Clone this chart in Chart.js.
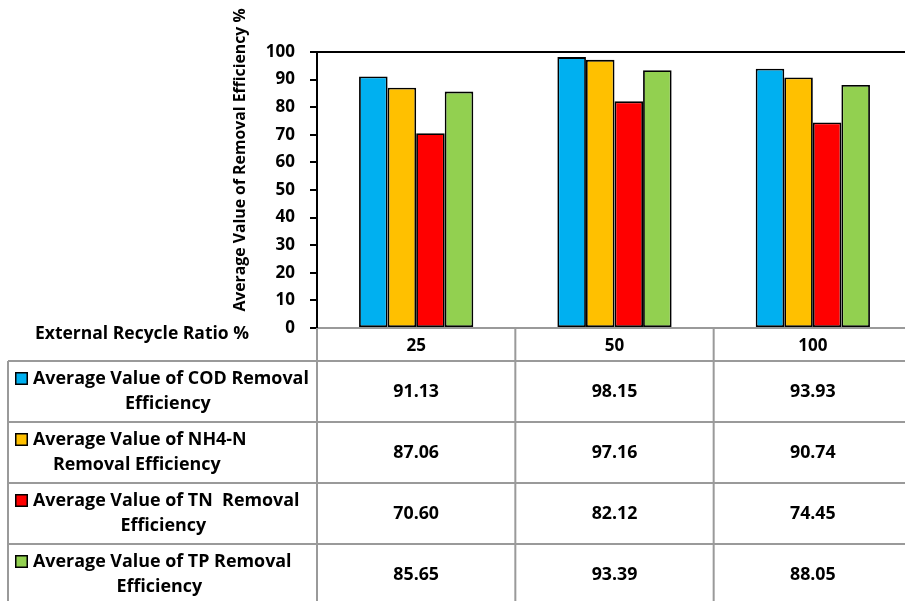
<!DOCTYPE html>
<html>
<head>
<meta charset="utf-8">
<script src="https://cdn.jsdelivr.net/npm/chart.js@4/dist/chart.umd.min.js"></script>
<style>
html,body{margin:0;padding:0;background:#fff;overflow:hidden;}
#wrap{width:915px;height:601px;}
</style>
</head>
<body>
<div id="wrap"><canvas id="c" width="915" height="601"></canvas></div>
<script>
// ---- data ----
const categories = ['25', '50', '100'];
const codValues = [91.13, 98.15, 93.93];
const nh4Values = [87.06, 97.16, 90.74];
const tnValues  = [70.60, 82.12, 74.45];
const tpValues  = [85.65, 93.39, 88.05];
const seriesLabels = [
  ['Average Value of COD Removal', 'Efficiency'],
  ['Average Value of NH4-N', 'Removal Efficiency'],
  ['Average Value of TN  Removal', 'Efficiency'],
  ['Average Value of TP Removal', 'Efficiency']
];
const seriesColors = ['#00B0F0', '#FFC000', '#FF0000', '#92D050'];
const yMin = 0, yMax = 100, yStep = 10;
const yTitle = 'Average Value of Removal Efficiency %';
const xTitle = 'External Recycle Ratio %';

const FONT = '"Open Sans", Lato, sans-serif';
const seriesValues = [codValues, nh4Values, tnValues, tpValues];

const tablePlugin = {
  id: 'dataTable',
  afterDraw(chart) {
    const ctx = chart.ctx;
    const ca = chart.chartArea;
    const xs = chart.scales.x;
    const n = categories.length;
    const catW = (ca.right - ca.left) / n;
    const tableLeft = 8;
    const headerBottom = 361;
    const rowH = 61;
    const gray = '#9a9a9a';
    ctx.save();
    // top plot border
    ctx.strokeStyle = '#000';
    ctx.lineWidth = 2;
    ctx.beginPath();
    ctx.moveTo(ca.left, ca.top);
    ctx.lineTo(ca.right, ca.top);
    ctx.stroke();

    // y title
    ctx.save();
    ctx.translate(240, 160);
    ctx.rotate(-Math.PI / 2);
    ctx.fillStyle = '#000';
    ctx.font = 'bold 15.8px ' + FONT;
    ctx.textAlign = 'center';
    ctx.textBaseline = 'middle';
    ctx.fillText(yTitle, 0, 0);
    ctx.restore();

    // x title
    ctx.fillStyle = '#000';
    ctx.font = 'bold 17.5px ' + FONT;
    ctx.textAlign = 'center';
    ctx.textBaseline = 'middle';
    ctx.fillText(xTitle, 142, 334);

    // table lines
    ctx.strokeStyle = gray;
    ctx.lineWidth = 2;
    ctx.beginPath();
    for (let i = 0; i <= n; i++) {
      const x = xs.getPixelForValue(0) - catW / 2 + i * catW;
      ctx.moveTo(x, ca.bottom);
      ctx.lineTo(x, 601);
    }
    ctx.moveTo(tableLeft, headerBottom);
    ctx.lineTo(tableLeft, 601);
    for (let r = 0; r <= seriesValues.length; r++) {
      const y = headerBottom + r * rowH;
      ctx.moveTo(tableLeft, y);
      ctx.lineTo(ca.right, y);
    }
    ctx.stroke();

    // cells
    for (let r = 0; r < seriesValues.length; r++) {
      const yc = headerBottom + r * rowH + rowH / 2;
      ctx.fillStyle = '#000';
      ctx.font = 'bold 17.8px ' + FONT;
      ctx.textAlign = 'center';
      ctx.textBaseline = 'middle';
      for (let i = 0; i < n; i++) {
        ctx.fillText(seriesValues[r][i].toFixed(2), xs.getPixelForValue(i), yc);
      }
      ctx.font = 'bold 17.9px ' + FONT;
      const lines = seriesLabels[r];
      const keyX = 15, keyS = 13;
      const w1 = ctx.measureText(lines[0]).width;
      const line1Left = keyX + keyS + 5;
      const center = (keyX + line1Left + w1) / 2 + 6;
      const y1 = yc - 13, y2 = yc + 12.5;
      ctx.textAlign = 'left';
      ctx.fillText(lines[0], line1Left, y1);
      ctx.textAlign = 'center';
      ctx.fillText(lines[1], center, y2);
      ctx.fillStyle = seriesColors[r];
      ctx.fillRect(keyX, y1 - keyS / 2, keyS, keyS);
      ctx.strokeStyle = '#000';
      ctx.lineWidth = 1.5;
      ctx.strokeRect(keyX + 0.75, y1 - keyS / 2 + 0.75, keyS - 1.5, keyS - 1.5);
    }
    ctx.restore();
  }
};

new Chart(document.getElementById('c'), {
  type: 'bar',
  data: {
    labels: categories,
    datasets: seriesValues.map((vals, i) => ({
      label: seriesLabels[i].join(' '),
      data: vals,
      backgroundColor: seriesColors[i],
      borderColor: '#000',
      borderWidth: 1.8,
      borderSkipped: false,
      barPercentage: 1,
      categoryPercentage: 0.576
    }))
  },
  options: {
    responsive: false,
    animation: false,
    devicePixelRatio: 1,
    layout: { padding: { top: 52, right: 3, left: 0, bottom: 0 } },
    plugins: { legend: { display: false }, tooltip: { enabled: false } },
    scales: {
      x: {
        grid: { display: false, drawTicks: false },
        border: { display: true, color: '#9a9a9a', width: 2 },
        ticks: { color: '#000', font: { family: FONT, size: 17, weight: 'bold' }, padding: 8 },
        afterFit: s => { s.height = 273; }
      },
      y: {
        min: yMin, max: yMax,
        ticks: { stepSize: yStep, color: '#000', font: { family: FONT, size: 17, weight: 'bold' }, padding: 15 },
        grid: { drawOnChartArea: false, drawTicks: true, tickLength: 7, color: '#000', lineWidth: 2 },
        border: { display: true, color: '#000', width: 2 },
        afterFit: s => { s.width = 317; }
      }
    }
  },
  plugins: [tablePlugin]
});
</script>
</body>
</html>
